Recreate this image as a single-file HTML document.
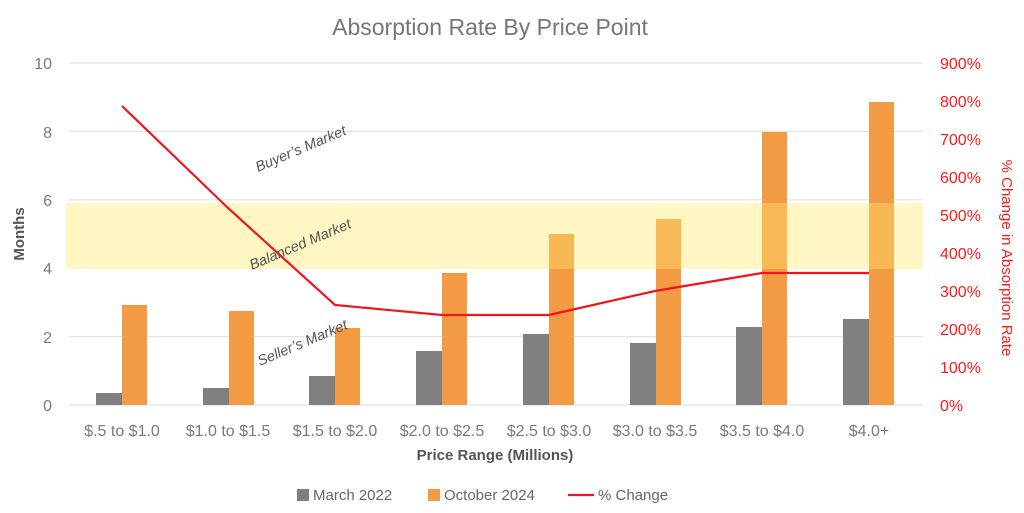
<!DOCTYPE html>
<html><head><style>body{margin:0;background:#fff}svg{display:block}</style></head><body>
<svg width="1024" height="513" xmlns="http://www.w3.org/2000/svg" font-family="Liberation Sans, sans-serif">
<text x="490" y="35" text-anchor="middle" font-size="23" fill="#767676">Absorption Rate By Price Point</text>
<g stroke="#e3e3e3" stroke-width="1.2">
<line x1="69" x2="923" y1="63" y2="63"/><line x1="69" x2="923" y1="131.4" y2="131.4"/><line x1="69" x2="923" y1="199.8" y2="199.8"/><line x1="69" x2="923" y1="268.2" y2="268.2"/><line x1="69" x2="923" y1="336.6" y2="336.6"/><line x1="69" x2="923" y1="405" y2="405"/>
</g>
<rect x="66" y="203" width="857" height="66" fill="#fff6c4"/>
<g fill="#7f7f7f">
<rect x="96" y="393" width="26" height="12"/><rect x="203" y="388" width="26" height="17"/><rect x="309" y="376" width="26" height="29"/><rect x="416" y="351" width="26" height="54"/><rect x="523" y="334" width="26" height="71"/><rect x="630" y="343" width="26" height="62"/><rect x="736" y="327" width="26" height="78"/><rect x="843" y="319" width="26" height="86"/>
</g>
<g fill="#f39a45">
<rect x="122" y="305" width="25" height="100"/><rect x="229" y="311" width="25" height="94"/><rect x="335" y="328" width="25" height="77"/><rect x="442" y="273" width="25" height="132"/><rect x="549" y="234" width="25" height="171"/><rect x="656" y="219" width="25" height="186"/><rect x="762" y="132" width="25" height="273"/><rect x="869" y="102" width="25" height="303"/>
</g>
<g fill="#f8b855">
<rect x="549" y="234" width="25" height="35"/><rect x="656" y="219" width="25" height="50"/><rect x="762" y="203" width="25" height="66"/><rect x="869" y="203" width="25" height="66"/>
</g>
<polyline points="122,106 228,208 335,305 442,315 549,315 655,291 762,273 869,273" fill="none" stroke="#f0141e" stroke-width="2.2"/>
<g font-size="14.5" fill="#555" font-style="italic">
<text transform="translate(258,172) rotate(-23)">Buyer’s Market</text>
<text transform="translate(252,270) rotate(-23)">Balanced Market</text>
<text transform="translate(260,366) rotate(-23)">Seller’s Market</text>
</g>
<g font-size="16" fill="#7a7a7a" text-anchor="end">
<text x="52" y="69">10</text><text x="52" y="138">8</text><text x="52" y="206">6</text><text x="52" y="274">4</text><text x="52" y="343">2</text><text x="52" y="411">0</text>
</g>
<g font-size="16" fill="#ff1a1a">
<text x="940" y="69">900%</text><text x="940" y="107">800%</text><text x="940" y="145">700%</text><text x="940" y="183">600%</text><text x="940" y="221">500%</text><text x="940" y="259">400%</text><text x="940" y="297">300%</text><text x="940" y="335">200%</text><text x="940" y="373">100%</text><text x="940" y="411">0%</text>
</g>
<text transform="translate(1002,258) rotate(90)" text-anchor="middle" font-size="15" fill="#ff1a1a">% Change in Absorption Rate</text>
<text transform="translate(24,234) rotate(-90)" text-anchor="middle" font-size="15" font-weight="bold" fill="#555">Months</text>
<g font-size="16" fill="#7a7a7a" text-anchor="middle">
<text x="122" y="436">$.5 to $1.0</text><text x="228" y="436">$1.0 to $1.5</text><text x="335" y="436">$1.5 to $2.0</text><text x="442" y="436">$2.0 to $2.5</text><text x="549" y="436">$2.5 to $3.0</text><text x="655" y="436">$3.0 to $3.5</text><text x="762" y="436">$3.5 to $4.0</text><text x="869" y="436">$4.0+</text>
</g>
<text x="495" y="460" text-anchor="middle" font-size="15" font-weight="bold" fill="#555">Price Range (Millions)</text>
<g font-size="15" fill="#666">
<rect x="297" y="489" width="12" height="12" fill="#7f7f7f"/><text x="313" y="500">March 2022</text>
<rect x="428" y="489" width="12" height="12" fill="#f39a45"/><text x="444" y="500">October 2024</text>
<line x1="568" x2="594" y1="495" y2="495" stroke="#f0141e" stroke-width="2.2"/><text x="598" y="500">% Change</text>
</g>
</svg>
</body></html>
